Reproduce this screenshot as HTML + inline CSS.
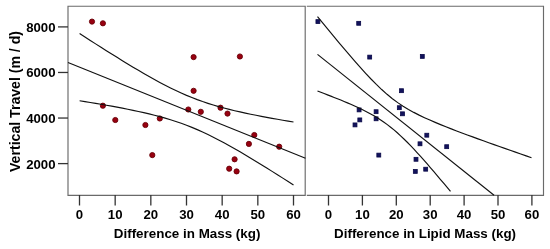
<!DOCTYPE html>
<html><head><meta charset="utf-8"><style>
html,body{margin:0;padding:0;background:#fff;width:550px;height:249px;overflow:hidden}
svg{display:block;will-change:transform}
</style></head><body>
<svg width="550" height="249" viewBox="0 0 550 249">
<circle cx="92" cy="21.6" r="2.6" fill="#980010" stroke="#6a0008" stroke-width="0.9"/>
<circle cx="102.9" cy="23.3" r="2.6" fill="#980010" stroke="#6a0008" stroke-width="0.9"/>
<circle cx="102.9" cy="105.7" r="2.6" fill="#980010" stroke="#6a0008" stroke-width="0.9"/>
<circle cx="115.3" cy="120" r="2.6" fill="#980010" stroke="#6a0008" stroke-width="0.9"/>
<circle cx="145.4" cy="125" r="2.6" fill="#980010" stroke="#6a0008" stroke-width="0.9"/>
<circle cx="152.3" cy="155.1" r="2.6" fill="#980010" stroke="#6a0008" stroke-width="0.9"/>
<circle cx="159.8" cy="118.5" r="2.6" fill="#980010" stroke="#6a0008" stroke-width="0.9"/>
<circle cx="188.3" cy="109.5" r="2.6" fill="#980010" stroke="#6a0008" stroke-width="0.9"/>
<circle cx="193.6" cy="57.1" r="2.6" fill="#980010" stroke="#6a0008" stroke-width="0.9"/>
<circle cx="193.6" cy="90.8" r="2.6" fill="#980010" stroke="#6a0008" stroke-width="0.9"/>
<circle cx="200.8" cy="111.8" r="2.6" fill="#980010" stroke="#6a0008" stroke-width="0.9"/>
<circle cx="220.5" cy="107.7" r="2.6" fill="#980010" stroke="#6a0008" stroke-width="0.9"/>
<circle cx="227.5" cy="113.6" r="2.6" fill="#980010" stroke="#6a0008" stroke-width="0.9"/>
<circle cx="239.9" cy="56.5" r="2.6" fill="#980010" stroke="#6a0008" stroke-width="0.9"/>
<circle cx="254.3" cy="135" r="2.6" fill="#980010" stroke="#6a0008" stroke-width="0.9"/>
<circle cx="248.9" cy="143.9" r="2.6" fill="#980010" stroke="#6a0008" stroke-width="0.9"/>
<circle cx="279.2" cy="146.7" r="2.6" fill="#980010" stroke="#6a0008" stroke-width="0.9"/>
<circle cx="234.6" cy="159.3" r="2.6" fill="#980010" stroke="#6a0008" stroke-width="0.9"/>
<circle cx="229.2" cy="168.7" r="2.6" fill="#980010" stroke="#6a0008" stroke-width="0.9"/>
<circle cx="236.6" cy="171.4" r="2.6" fill="#980010" stroke="#6a0008" stroke-width="0.9"/>
<rect x="315.95" y="19.65" width="3.9" height="3.9" fill="#12125c" stroke="#0a0a48" stroke-width="0.8"/>
<rect x="356.75" y="21.35" width="3.9" height="3.9" fill="#12125c" stroke="#0a0a48" stroke-width="0.8"/>
<rect x="367.75" y="55.15" width="3.9" height="3.9" fill="#12125c" stroke="#0a0a48" stroke-width="0.8"/>
<rect x="420.35" y="54.45" width="3.9" height="3.9" fill="#12125c" stroke="#0a0a48" stroke-width="0.8"/>
<rect x="399.55" y="88.75" width="3.9" height="3.9" fill="#12125c" stroke="#0a0a48" stroke-width="0.8"/>
<rect x="357.15" y="107.95" width="3.9" height="3.9" fill="#12125c" stroke="#0a0a48" stroke-width="0.8"/>
<rect x="357.85" y="117.95" width="3.9" height="3.9" fill="#12125c" stroke="#0a0a48" stroke-width="0.8"/>
<rect x="353.05" y="122.95" width="3.9" height="3.9" fill="#12125c" stroke="#0a0a48" stroke-width="0.8"/>
<rect x="374.15" y="109.75" width="3.9" height="3.9" fill="#12125c" stroke="#0a0a48" stroke-width="0.8"/>
<rect x="374.15" y="116.85" width="3.9" height="3.9" fill="#12125c" stroke="#0a0a48" stroke-width="0.8"/>
<rect x="397.35" y="105.75" width="3.9" height="3.9" fill="#12125c" stroke="#0a0a48" stroke-width="0.8"/>
<rect x="400.55" y="111.85" width="3.9" height="3.9" fill="#12125c" stroke="#0a0a48" stroke-width="0.8"/>
<rect x="376.85" y="153.15" width="3.9" height="3.9" fill="#12125c" stroke="#0a0a48" stroke-width="0.8"/>
<rect x="424.85" y="133.25" width="3.9" height="3.9" fill="#12125c" stroke="#0a0a48" stroke-width="0.8"/>
<rect x="418.05" y="141.85" width="3.9" height="3.9" fill="#12125c" stroke="#0a0a48" stroke-width="0.8"/>
<rect x="444.75" y="144.75" width="3.9" height="3.9" fill="#12125c" stroke="#0a0a48" stroke-width="0.8"/>
<rect x="414.05" y="157.35" width="3.9" height="3.9" fill="#12125c" stroke="#0a0a48" stroke-width="0.8"/>
<rect x="413.35" y="169.45" width="3.9" height="3.9" fill="#12125c" stroke="#0a0a48" stroke-width="0.8"/>
<rect x="423.75" y="167.25" width="3.9" height="3.9" fill="#12125c" stroke="#0a0a48" stroke-width="0.8"/>
<path d="M68,6.2 H305.2 V195.3 H68 Z" stroke="#6a6a6a" stroke-width="1.15" fill="none"/>
<path d="M306.8,6.2 H543.5 V195.3 H306.8" stroke="#6a6a6a" stroke-width="1.15" fill="none"/>
<line x1="79.5" y1="195" x2="79.5" y2="205.5" stroke="#333" stroke-width="1.3"/>
<line x1="115.17" y1="195" x2="115.17" y2="205.5" stroke="#333" stroke-width="1.3"/>
<line x1="150.83" y1="195" x2="150.83" y2="205.5" stroke="#333" stroke-width="1.3"/>
<line x1="186.5" y1="195" x2="186.5" y2="205.5" stroke="#333" stroke-width="1.3"/>
<line x1="222.17" y1="195" x2="222.17" y2="205.5" stroke="#333" stroke-width="1.3"/>
<line x1="257.83" y1="195" x2="257.83" y2="205.5" stroke="#333" stroke-width="1.3"/>
<line x1="293.5" y1="195" x2="293.5" y2="205.5" stroke="#333" stroke-width="1.3"/>
<line x1="328.5" y1="195" x2="328.5" y2="205.5" stroke="#333" stroke-width="1.3"/>
<line x1="362.4" y1="195" x2="362.4" y2="205.5" stroke="#333" stroke-width="1.3"/>
<line x1="396.3" y1="195" x2="396.3" y2="205.5" stroke="#333" stroke-width="1.3"/>
<line x1="430.2" y1="195" x2="430.2" y2="205.5" stroke="#333" stroke-width="1.3"/>
<line x1="464.1" y1="195" x2="464.1" y2="205.5" stroke="#333" stroke-width="1.3"/>
<line x1="498" y1="195" x2="498" y2="205.5" stroke="#333" stroke-width="1.3"/>
<line x1="531.9" y1="195" x2="531.9" y2="205.5" stroke="#333" stroke-width="1.3"/>
<line x1="58" y1="26.9" x2="68" y2="26.9" stroke="#333" stroke-width="1.3"/>
<line x1="58" y1="72.47" x2="68" y2="72.47" stroke="#333" stroke-width="1.3"/>
<line x1="58" y1="118.04" x2="68" y2="118.04" stroke="#333" stroke-width="1.3"/>
<line x1="58" y1="163.61" x2="68" y2="163.61" stroke="#333" stroke-width="1.3"/>
<path d="M79.6,33.6 L84.95,37.05 L90.29,40.48 L95.64,43.89 L100.99,47.29 L106.34,50.67 L111.69,54.03 L117.03,57.36 L122.38,60.66 L127.73,63.92 L133.07,67.15 L138.42,70.32 L143.77,73.45 L149.12,76.51 L154.46,79.51 L159.81,82.42 L165.16,85.24 L170.51,87.95 L175.86,90.55 L181.2,93.02 L186.55,95.36 L191.9,97.56 L197.25,99.63 L202.59,101.55 L207.94,103.34 L213.29,105.02 L218.64,106.58 L223.98,108.04 L229.33,109.41 L234.68,110.71 L240.03,111.93 L245.37,113.1 L250.72,114.22 L256.07,115.3 L261.41,116.34 L266.76,117.34 L272.11,118.32 L277.46,119.27 L282.8,120.2 L288.15,121.11 L293.5,122" stroke="#111" stroke-width="1.15" fill="none"/>
<path d="M68,62.47 L305.5,158.32" stroke="#111" stroke-width="1.15" fill="none"/>
<path d="M79.6,100.7 L84.95,101.57 L90.29,102.46 L95.64,103.36 L100.99,104.27 L106.34,105.21 L111.69,106.17 L117.03,107.16 L122.38,108.17 L127.73,109.23 L133.07,110.32 L138.42,111.45 L143.77,112.65 L149.12,113.9 L154.46,115.22 L159.81,116.63 L165.16,118.12 L170.51,119.73 L175.86,121.44 L181.2,123.29 L186.55,125.26 L191.9,127.38 L197.25,129.63 L202.59,132.02 L207.94,134.55 L213.29,137.19 L218.64,139.94 L223.98,142.8 L229.33,145.74 L234.68,148.76 L240.03,151.85 L245.37,155 L250.72,158.2 L256.07,161.44 L261.41,164.72 L266.76,168.03 L272.11,171.37 L277.46,174.73 L282.8,178.12 L288.15,181.52 L293.5,184.95" stroke="#111" stroke-width="1.15" fill="none"/>
<path d="M317.5,16.6 L322.85,23.13 L328.2,29.63 L333.55,36.1 L338.9,42.51 L344.25,48.86 L349.6,55.14 L354.95,61.32 L360.3,67.38 L365.65,73.28 L371,78.98 L376.35,84.42 L381.7,89.55 L387.05,94.31 L392.4,98.68 L397.75,102.63 L403.1,106.2 L408.45,109.43 L413.8,112.38 L419.15,115.11 L424.5,117.66 L429.85,120.07 L435.2,122.38 L440.55,124.6 L445.9,126.76 L451.25,128.86 L456.6,130.92 L461.95,132.94 L467.3,134.93 L472.65,136.9 L478,138.85 L483.35,140.78 L488.7,142.7 L494.05,144.61 L499.4,146.5 L504.75,148.38 L510.1,150.26 L515.45,152.13 L520.8,153.99 L526.15,155.85 L531.5,157.7" stroke="#111" stroke-width="1.15" fill="none"/>
<path d="M317.5,54.33 L494.05,195.3" stroke="#111" stroke-width="1.15" fill="none"/>
<path d="M317.5,91.07 L320.82,92.31 L324.15,93.57 L327.48,94.84 L330.8,96.13 L334.12,97.43 L337.45,98.75 L340.77,100.09 L344.1,101.46 L347.43,102.86 L350.75,104.29 L354.07,105.76 L357.4,107.27 L360.73,108.84 L364.05,110.47 L367.38,112.17 L370.7,113.96 L374.02,115.84 L377.35,117.84 L380.68,119.96 L384,122.21 L387.32,124.62 L390.65,127.18 L393.98,129.9 L397.3,132.78 L400.62,135.81 L403.95,138.98 L407.27,142.28 L410.6,145.69 L413.93,149.2 L417.25,152.79 L420.57,156.46 L423.9,160.19 L427.23,163.98 L430.55,167.81 L433.88,171.69 L437.2,175.59 L440.52,179.53 L443.85,183.49 L447.18,187.48 L450.5,191.49" stroke="#111" stroke-width="1.15" fill="none"/>
<text x="55.5" y="31.8" text-anchor="end" font-size="13.2" font-family="Liberation Sans, sans-serif" font-weight="bold" fill="#000">8000</text>
<text x="55.5" y="77.37" text-anchor="end" font-size="13.2" font-family="Liberation Sans, sans-serif" font-weight="bold" fill="#000">6000</text>
<text x="55.5" y="122.94" text-anchor="end" font-size="13.2" font-family="Liberation Sans, sans-serif" font-weight="bold" fill="#000">4000</text>
<text x="55.5" y="168.51" text-anchor="end" font-size="13.2" font-family="Liberation Sans, sans-serif" font-weight="bold" fill="#000">2000</text>
<text x="79.5" y="219.3" text-anchor="middle" font-size="13.2" font-family="Liberation Sans, sans-serif" font-weight="bold" fill="#000">0</text>
<text x="115.17" y="219.3" text-anchor="middle" font-size="13.2" font-family="Liberation Sans, sans-serif" font-weight="bold" fill="#000">10</text>
<text x="150.83" y="219.3" text-anchor="middle" font-size="13.2" font-family="Liberation Sans, sans-serif" font-weight="bold" fill="#000">20</text>
<text x="186.5" y="219.3" text-anchor="middle" font-size="13.2" font-family="Liberation Sans, sans-serif" font-weight="bold" fill="#000">30</text>
<text x="222.17" y="219.3" text-anchor="middle" font-size="13.2" font-family="Liberation Sans, sans-serif" font-weight="bold" fill="#000">40</text>
<text x="257.83" y="219.3" text-anchor="middle" font-size="13.2" font-family="Liberation Sans, sans-serif" font-weight="bold" fill="#000">50</text>
<text x="293.5" y="219.3" text-anchor="middle" font-size="13.2" font-family="Liberation Sans, sans-serif" font-weight="bold" fill="#000">60</text>
<text x="328.5" y="219.3" text-anchor="middle" font-size="13.2" font-family="Liberation Sans, sans-serif" font-weight="bold" fill="#000">0</text>
<text x="362.4" y="219.3" text-anchor="middle" font-size="13.2" font-family="Liberation Sans, sans-serif" font-weight="bold" fill="#000">10</text>
<text x="396.3" y="219.3" text-anchor="middle" font-size="13.2" font-family="Liberation Sans, sans-serif" font-weight="bold" fill="#000">20</text>
<text x="430.2" y="219.3" text-anchor="middle" font-size="13.2" font-family="Liberation Sans, sans-serif" font-weight="bold" fill="#000">30</text>
<text x="464.1" y="219.3" text-anchor="middle" font-size="13.2" font-family="Liberation Sans, sans-serif" font-weight="bold" fill="#000">40</text>
<text x="498" y="219.3" text-anchor="middle" font-size="13.2" font-family="Liberation Sans, sans-serif" font-weight="bold" fill="#000">50</text>
<text x="531.9" y="219.3" text-anchor="middle" font-size="13.2" font-family="Liberation Sans, sans-serif" font-weight="bold" fill="#000">60</text>
<text x="113.8" y="237.5" font-size="12.5" textLength="146.6" lengthAdjust="spacingAndGlyphs" font-family="Liberation Sans, sans-serif" font-weight="bold" fill="#000">Difference in Mass (kg)</text>
<text x="334.1" y="237.5" font-size="12.5" textLength="181.9" lengthAdjust="spacingAndGlyphs" font-family="Liberation Sans, sans-serif" font-weight="bold" fill="#000">Difference in Lipid Mass (kg)</text>
<text transform="translate(20.0,172) rotate(-90)" x="0" y="0" font-size="14" textLength="141" lengthAdjust="spacingAndGlyphs" font-family="Liberation Sans, sans-serif" font-weight="bold" fill="#000">Vertical Travel (m / d)</text>
</svg>
</body></html>
